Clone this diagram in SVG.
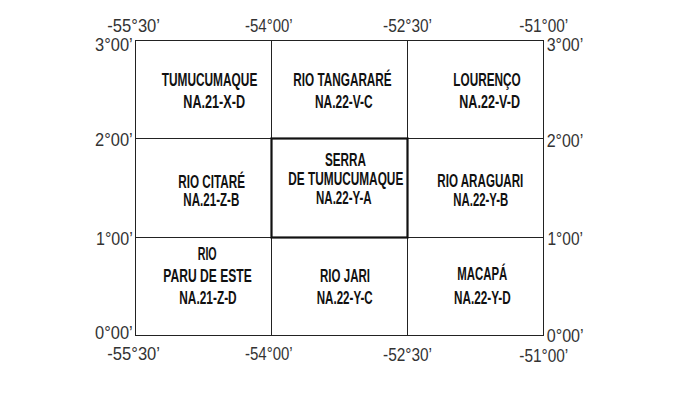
<svg xmlns="http://www.w3.org/2000/svg" width="681" height="394" viewBox="0 0 681 394">
<style>
.cell{fill:#fff;stroke:#222;stroke-width:1}
.main{fill:none;stroke:#111;stroke-width:2.2}
.lbl{font-family:"Liberation Sans Narrow","Liberation Sans",Arial,sans-serif;font-weight:bold;font-size:18px;fill:#111}
.ax{font-family:"Liberation Sans Narrow","Liberation Sans",Arial,sans-serif;font-size:18.5px;fill:#333}
</style>
<rect width="681" height="394" fill="#fff"/>
<g id="cell-na21xd"><rect class="cell" x="135.5" y="40.5" width="136" height="98"/>
<text class="lbl" x="161.7" y="86" textLength="95.6" lengthAdjust="spacingAndGlyphs">TUMUCUMAQUE</text>
<text class="lbl" x="183.3" y="108" textLength="61.7" lengthAdjust="spacingAndGlyphs">NA.21-X-D</text></g>
<g id="cell-na22vc"><rect class="cell" x="271.5" y="40.5" width="136" height="98"/>
<text class="lbl" x="293.3" y="86" textLength="98.4" lengthAdjust="spacingAndGlyphs">RIO TANGARARÉ</text>
<text class="lbl" x="315" y="108" textLength="57.7" lengthAdjust="spacingAndGlyphs">NA.22-V-C</text></g>
<g id="cell-na22vd"><rect class="cell" x="407.5" y="40.5" width="136" height="98"/>
<text class="lbl" x="453.3" y="86" textLength="67.4" lengthAdjust="spacingAndGlyphs">LOURENÇO</text>
<text class="lbl" x="459.3" y="108" textLength="60.7" lengthAdjust="spacingAndGlyphs">NA.22-V-D</text></g>
<g id="cell-na21zb"><rect class="cell" x="135.5" y="138.5" width="136" height="99"/>
<text class="lbl" x="178.3" y="188" textLength="66.7" lengthAdjust="spacingAndGlyphs">RIO CITARÉ</text>
<text class="lbl" x="183.3" y="206" textLength="56" lengthAdjust="spacingAndGlyphs">NA.21-Z-B</text></g>
<g id="cell-na22yb"><rect class="cell" x="407.5" y="138.5" width="136" height="99"/>
<text class="lbl" x="437.3" y="187" textLength="86" lengthAdjust="spacingAndGlyphs">RIO ARAGUARI</text>
<text class="lbl" x="453.3" y="205.5" textLength="55" lengthAdjust="spacingAndGlyphs">NA.22-Y-B</text></g>
<g id="cell-na21zd"><rect class="cell" x="135.5" y="237.5" width="136" height="98"/>
<text class="lbl" x="197.7" y="259.5" textLength="19" lengthAdjust="spacingAndGlyphs">RIO</text>
<text class="lbl" x="163.3" y="281.7" textLength="88.4" lengthAdjust="spacingAndGlyphs">PARU DE ESTE</text>
<text class="lbl" x="179.3" y="304" textLength="57.4" lengthAdjust="spacingAndGlyphs">NA.21-Z-D</text></g>
<g id="cell-na22yc"><rect class="cell" x="271.5" y="237.5" width="136" height="98"/>
<text class="lbl" x="320" y="281.7" textLength="50" lengthAdjust="spacingAndGlyphs">RIO JARI</text>
<text class="lbl" x="316.7" y="304" textLength="56" lengthAdjust="spacingAndGlyphs">NA.22-Y-C</text></g>
<g id="cell-na22yd"><rect class="cell" x="407.5" y="237.5" width="136" height="98"/>
<text class="lbl" x="457.3" y="279.5" textLength="50" lengthAdjust="spacingAndGlyphs">MACAPÁ</text>
<text class="lbl" x="454" y="304" textLength="56.7" lengthAdjust="spacingAndGlyphs">NA.22-Y-D</text></g>
<g id="cell-na22ya"><rect class="main" x="271.5" y="138.5" width="136" height="99"/>
<text class="lbl" x="325" y="166.3" textLength="41" lengthAdjust="spacingAndGlyphs">SERRA</text>
<text class="lbl" x="288.3" y="185.3" textLength="115" lengthAdjust="spacingAndGlyphs">DE TUMUCUMAQUE</text>
<text class="lbl" x="316" y="204.3" textLength="55.7" lengthAdjust="spacingAndGlyphs">NA.22-Y-A</text></g>
<g id="connectors"></g>
<g id="axis-labels">
<text class="ax" x="107.3" y="32" textLength="52.7" lengthAdjust="spacingAndGlyphs">-55°30’</text>
<text class="ax" x="245" y="32" textLength="47.7" lengthAdjust="spacingAndGlyphs">-54°00’</text>
<text class="ax" x="383" y="32" textLength="49" lengthAdjust="spacingAndGlyphs">-52°30’</text>
<text class="ax" x="519.3" y="31.5" textLength="49" lengthAdjust="spacingAndGlyphs">-51°00’</text>
<text class="ax" x="107.3" y="360" textLength="52.7" lengthAdjust="spacingAndGlyphs">-55°30’</text>
<text class="ax" x="245" y="360" textLength="47.7" lengthAdjust="spacingAndGlyphs">-54°00’</text>
<text class="ax" x="383" y="361" textLength="49" lengthAdjust="spacingAndGlyphs">-52°30’</text>
<text class="ax" x="519.3" y="361.5" textLength="49" lengthAdjust="spacingAndGlyphs">-51°00’</text>
<text class="ax" x="95" y="51" textLength="37.7" lengthAdjust="spacingAndGlyphs">3°00’</text>
<text class="ax" x="95" y="145.5" textLength="37.7" lengthAdjust="spacingAndGlyphs">2°00’</text>
<text class="ax" x="96" y="245" textLength="36.7" lengthAdjust="spacingAndGlyphs">1°00’</text>
<text class="ax" x="95" y="338.5" textLength="37.7" lengthAdjust="spacingAndGlyphs">0°00’</text>
<text class="ax" x="546.7" y="50.5" textLength="36.6" lengthAdjust="spacingAndGlyphs">3°00’</text>
<text class="ax" x="546.7" y="146.5" textLength="36.6" lengthAdjust="spacingAndGlyphs">2°00’</text>
<text class="ax" x="547.5" y="245" textLength="35.5" lengthAdjust="spacingAndGlyphs">1°00’</text>
<text class="ax" x="546.7" y="341.5" textLength="37" lengthAdjust="spacingAndGlyphs">0°00’</text>
</g>
</svg>
